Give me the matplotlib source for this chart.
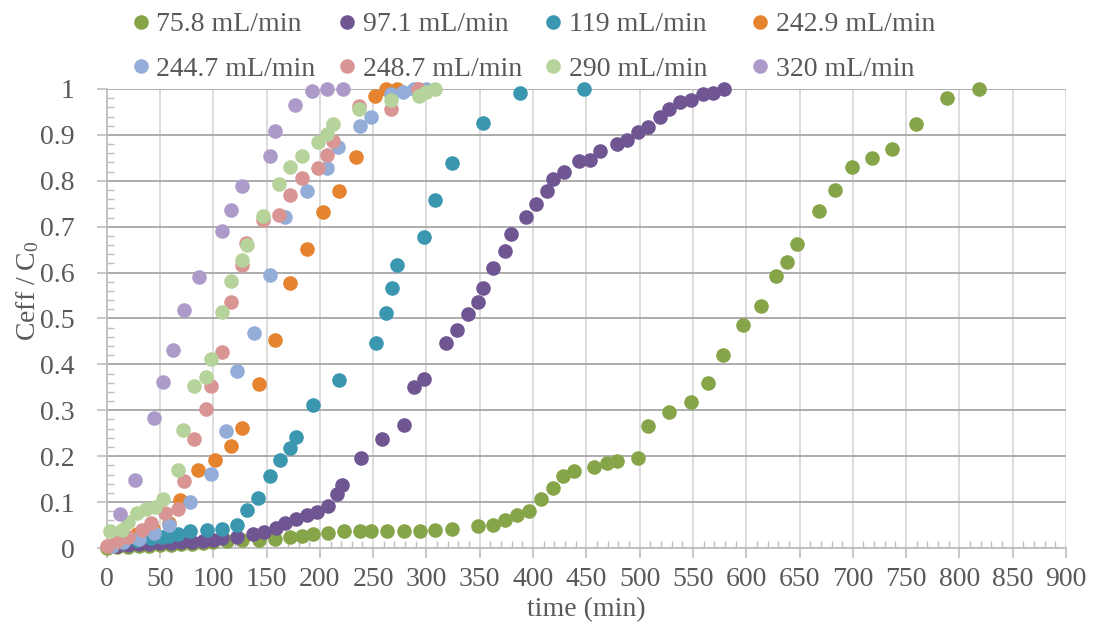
import matplotlib
matplotlib.use('Agg')
import matplotlib.pyplot as plt
from matplotlib.ticker import MultipleLocator

plt.rcParams['font.family'] = ['Liberation Serif', 'DejaVu Serif']
plt.rcParams['mathtext.fontset'] = 'custom'
plt.rcParams['mathtext.rm'] = 'Liberation Serif'
plt.rcParams['mathtext.it'] = 'Liberation Serif:italic'

# Breakthrough data: time (min) and Ceff/C0 for each flow rate
green_t = [0, 10, 20, 30, 40, 50, 60, 70, 80, 90, 100, 113, 127, 143, 158, 172, 183, 194, 208, 223,
           238, 248, 263, 279, 294, 308, 324, 348, 362, 374, 385, 396, 407, 419, 428, 438, 457, 469, 479, 498,
           508, 528, 548, 564, 578, 597, 614, 628, 638, 648, 668, 683, 699, 718, 737, 759, 788, 818]
green_c = [0.0, 0.002, 0.003, 0.004, 0.005, 0.006, 0.007, 0.008, 0.009, 0.01, 0.012, 0.015, 0.018, 0.018,
           0.02, 0.025, 0.027, 0.031, 0.033, 0.037, 0.037, 0.037, 0.037, 0.037, 0.037, 0.04, 0.041, 0.047,
           0.051, 0.062, 0.071, 0.08, 0.107, 0.13, 0.156, 0.168, 0.176, 0.186, 0.19, 0.197, 0.266, 0.297,
           0.319, 0.359, 0.42, 0.485, 0.527, 0.592, 0.623, 0.662, 0.735, 0.78, 0.831, 0.85, 0.869, 0.923,
           0.98, 1.0]

purple_t = [10, 20, 30, 40, 50, 60, 70, 80, 90, 100, 108, 122, 137, 148, 159, 167, 178, 188, 197, 208,
            216, 221, 239, 258, 279, 288, 298, 318, 329, 339, 348, 353, 362, 374, 379, 393, 403, 413, 419,
            429, 443, 453, 463, 479, 488, 498, 508, 519, 528, 538, 548, 559, 569, 579]
purple_c = [0.005, 0.007, 0.008, 0.009, 0.01, 0.011, 0.012, 0.013, 0.015, 0.017, 0.021, 0.024, 0.031,
            0.035, 0.044, 0.055, 0.064, 0.071, 0.079, 0.092, 0.118, 0.137, 0.196, 0.238, 0.268, 0.35,
            0.368, 0.447, 0.475, 0.509, 0.535, 0.566, 0.609, 0.646, 0.684, 0.721, 0.75, 0.777, 0.804,
            0.82, 0.843, 0.846, 0.864, 0.88, 0.888, 0.907, 0.918, 0.94, 0.956, 0.971, 0.977, 0.988,
            0.991, 1.0]

teal_t = [15, 28, 42, 52, 58, 67, 78, 94, 108, 122, 132, 142, 153, 163, 172, 178, 194, 218, 253, 262,
          268, 272, 298, 308, 324, 353, 388, 448]
teal_c = [0.012, 0.018, 0.022, 0.025, 0.027, 0.03, 0.037, 0.04, 0.042, 0.05, 0.083, 0.11, 0.157, 0.191,
          0.218, 0.242, 0.311, 0.367, 0.447, 0.513, 0.567, 0.617, 0.677, 0.759, 0.839, 0.926, 0.991, 1.0]

orange_t = [5, 14, 28, 43, 58, 69, 86, 102, 117, 127, 143, 158, 172, 188, 203, 218, 234, 252, 262, 272, 292]
orange_c = [0.005, 0.017, 0.03, 0.042, 0.054, 0.105, 0.17, 0.192, 0.223, 0.261, 0.357, 0.453, 0.578,
            0.652, 0.731, 0.777, 0.851, 0.985, 0.999, 1.0, 1.0]

blue_t = [5, 15, 30, 44, 58, 78, 98, 112, 122, 138, 153, 167, 188, 207, 217, 238, 248, 267, 278, 288, 300]
blue_c = [0.005, 0.012, 0.02, 0.032, 0.05, 0.101, 0.162, 0.254, 0.385, 0.469, 0.595, 0.722, 0.778, 0.828,
          0.873, 0.919, 0.939, 0.988, 0.993, 1.0, 1.0]

pink_t = [0, 10, 20, 33, 42, 55, 67, 73, 82, 93, 98, 108, 117, 127, 131, 147, 162, 172, 183, 198, 207,
          212, 237, 267, 292]
pink_c = [0.004, 0.015, 0.025, 0.039, 0.054, 0.077, 0.084, 0.147, 0.238, 0.302, 0.352, 0.426, 0.537,
          0.617, 0.664, 0.715, 0.726, 0.77, 0.806, 0.828, 0.857, 0.886, 0.962, 0.956, 1.0]

lgreen_t = [3, 14, 20, 28, 37, 45, 53, 67, 72, 82, 93, 98, 108, 117, 127, 132, 147, 162, 172, 183, 198,
            207, 212, 237, 267, 293, 300, 308]
lgreen_c = [0.038, 0.039, 0.057, 0.076, 0.084, 0.09, 0.106, 0.17, 0.257, 0.353, 0.373, 0.411, 0.515,
            0.582, 0.628, 0.66, 0.724, 0.793, 0.831, 0.855, 0.884, 0.902, 0.924, 0.956, 0.977, 0.985,
            0.993, 1.0]

lav_t = [12.5, 27, 44, 53, 62.5, 72.5, 87, 108, 117, 127, 153, 158, 177, 193, 207, 222]
lav_c = [0.075, 0.148, 0.284, 0.362, 0.431, 0.518, 0.59, 0.69, 0.737, 0.789, 0.855, 0.908, 0.966,
         0.995, 1.0, 1.0]

labels = ['75.8 mL/min', '97.1 mL/min', '119 mL/min', '242.9 mL/min',
          '244.7 mL/min', '248.7 mL/min', '290 mL/min', '320 mL/min']
series = [(green_t, green_c), (purple_t, purple_c), (teal_t, teal_c), (orange_t, orange_c),
          (blue_t, blue_c), (pink_t, pink_c), (lgreen_t, lgreen_c), (lav_t, lav_c)]
colors = ['#86A548', '#6F5592', '#3A97AF', '#E5832F', '#93ADD8', '#D99594', '#B5D39A', '#AC9BC9']

text_color = '#595959'
fs = 20

fig = plt.figure(figsize=(10.93, 6.32), dpi=100)
ax = fig.add_axes([0.0976, 0.1329, 0.8777, 0.7263])

handles = []
for (t, c), col, lab in zip(series, colors, labels):
    h, = ax.plot(t, c, linestyle='none', marker='o', markersize=10.5, color=col,
                 markeredgewidth=0, clip_on=False, zorder=3, label=lab)
    handles.append(h)

ax.set_xlim(0, 900)
ax.set_ylim(0, 1)
ax.xaxis.set_major_locator(MultipleLocator(50))
ax.xaxis.set_minor_locator(MultipleLocator(10))
ax.yaxis.set_major_locator(MultipleLocator(0.1))
ax.yaxis.set_minor_locator(MultipleLocator(0.02))
ax.set_yticklabels(['0' if v == 0 else ('1' if v == 1 else f'{v:.1f}')
                    for v in ax.get_yticks()])

# gridlines: darker horizontal, light vertical
ax.grid(axis='y', which='major', color='#a6a6a6', linewidth=1.3, zorder=0)
ax.grid(axis='x', which='major', color='#d9d9d9', linewidth=1.3, zorder=0)
ax.set_axisbelow(True)

for side in ['top', 'right']:
    ax.spines[side].set_visible(False)
for side in ['left', 'bottom']:
    ax.spines[side].set_color('#bfbfbf')
    ax.spines[side].set_linewidth(1.3)

ax.tick_params(which='major', direction='out', length=7, width=1.2, color='#bfbfbf',
               labelsize=fs, labelcolor=text_color)
ax.tick_params(axis='y', which='major', pad=16)
ax.tick_params(axis='x', which='major', pad=7)
ax.tick_params(which='minor', direction='in', length=5, width=1.0, color='#bfbfbf')

ax.set_xlabel('time (min)', fontsize=fs, color=text_color)
ax.set_ylabel(r'Ceff / C$_0$', fontsize=fs, color=text_color)
ax.xaxis.set_label_coords(0.5, -0.108)
ax.yaxis.set_label_coords(-0.068, 0.56)

# legend laid out as 4 fixed columns, 2 rows
col_x = [140.7, 347, 553, 760]
W, H = 1093, 632
for j in range(4):
    fig.legend([handles[j], handles[j + 4]], [labels[j], labels[j + 4]],
               loc='upper left', bbox_to_anchor=((col_x[j] - 8) / W, 1 - 12 / H),
               frameon=False, fontsize=fs, handlelength=0.6, handletextpad=0.25,
               borderpad=0, borderaxespad=0, labelspacing=0.68, labelcolor=text_color)

fig.savefig('out.png', dpi=100)
